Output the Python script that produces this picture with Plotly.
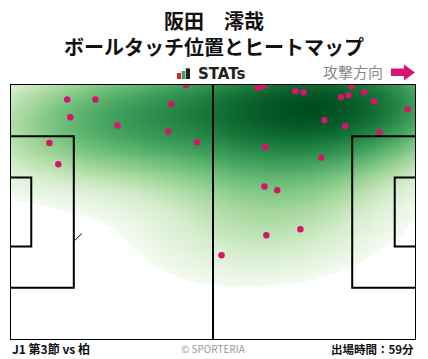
import numpy as np
import plotly.graph_objects as go

# ---- data (pitch coords: 105 x 68, y up) ----
touch_x = [45.5, 14.8, 22.1, 41.7, 15.6, 27.8, 40.9, 48.4, 10.2, 12.5,
           64.0, 65.5, 73.8, 75.9, 88.3, 85.6, 87.5, 91.6, 94.2, 102.8,
           81.3, 86.7, 95.5, 66.0, 80.5, 65.8, 69.1, 66.3, 75.1, 54.7]
touch_y = [67.7, 63.9, 63.9, 62.6, 59.2, 57.0, 55.4, 52.5, 52.3, 46.7,
           66.9, 67.4, 66.1, 65.8, 67.4, 64.5, 65.0, 65.8, 63.4, 61.3,
           58.4, 56.8, 55.2, 51.2, 48.5, 40.8, 39.8, 27.8, 29.4, 22.5]

title_line1 = "阪田　澪哉"
title_line2 = "ボールタッチ位置とヒートマップ"
footer_left = "J1 第3節 vs 柏"
footer_center = "© SPORTERIA"
footer_right = "出場時間：59分"
direction_label = "攻撃方向"

L, W = 105.0, 68.0

# ---- KDE heat map derived from the touch points ----
P = np.vstack([touch_x, touch_y])
n = P.shape[1]
cov = np.cov(P)
fac = 1.5 * n ** (-1.0 / 6.0)
kcov = cov * fac ** 2
kinv = np.linalg.inv(kcov)

def kde(gx, gy):
    X, Y = np.meshgrid(gx, gy)
    pts = np.stack([X.ravel(), Y.ravel()])
    d = pts[:, :, None] - P[:, None, :]
    m = np.einsum('ikn,ij,jkn->kn', d, kinv, d)
    return np.exp(-0.5 * m).sum(axis=1).reshape(X.shape)

ex = np.linspace(-60, 165, 280)
ey = np.linspace(-60, 128, 240)
Z_ext = kde(ex, ey)
vals = np.sort(Z_ext.ravel())
cum = np.cumsum(vals)
cum /= cum[-1]
level = vals[np.searchsorted(cum, 0.10)]

gx = np.linspace(0, L, 211)
gy = np.linspace(0, W, 137)
Z = kde(gx, gy)
Zm = np.where(Z >= level, Z, np.nan)

greens = [[0.0, '#f4faf1'], [0.15, '#d5edcd'], [0.3, '#a5d79c'],
          [0.45, '#6cbe78'], [0.6, '#3f9f5b'], [0.8, '#16773a'], [1.0, '#004d1f']]

fig = go.Figure()
fig.add_trace(go.Heatmap(x=gx, y=gy, z=Zm, colorscale=greens, zsmooth='best',
                         zmin=level, zmax=float(np.nanmax(Z)),
                         showscale=False, hoverinfo='skip'))
fig.add_trace(go.Scatter(x=touch_x, y=touch_y, mode='markers',
                         marker=dict(size=6.5, color='#d6166d'),
                         cliponaxis=True, hoverinfo='skip'))

line = dict(color='black', width=2)
shapes = [
    dict(type='rect', x0=0, y0=0, x1=L, y1=W, line=line),
    dict(type='line', x0=L / 2, y0=0, x1=L / 2, y1=W, line=line),
    dict(type='rect', x0=0, y0=(W - 40.3) / 2, x1=16.5, y1=(W + 40.3) / 2, line=line),
    dict(type='rect', x0=0, y0=(W - 18.3) / 2, x1=5.5, y1=(W + 18.3) / 2, line=line),
    dict(type='rect', x0=L - 16.5, y0=(W - 40.3) / 2, x1=L, y1=(W + 40.3) / 2, line=line),
    dict(type='rect', x0=L - 5.5, y0=(W - 18.3) / 2, x1=L, y1=(W + 18.3) / 2, line=line),
    dict(type='line', x0=16.8, y0=26.5, x1=18.6, y1=28.3, line=dict(color='black', width=1)),
    # attack direction arrow (paper coords)
    dict(type='path', xref='paper', yref='paper',
         path='M 0.9384 1.0313 L 0.9704 1.0313 L 0.9704 1.0137 L 0.9975 1.0449 '
              'L 0.9704 1.0762 L 0.9704 1.0605 L 0.9384 1.0605 Z',
         fillcolor='#d6166d', line=dict(width=0)),
    # STATs logo bars
    dict(type='rect', xref='paper', yref='paper', x0=0.4113, x1=0.4212, y0=1.0195, y1=1.0430,
         fillcolor='#e8202a', line=dict(width=0)),
    dict(type='rect', xref='paper', yref='paper', x0=0.4229, x1=0.4310, y0=1.0195, y1=1.0508,
         fillcolor='#2fa84f', line=dict(width=0)),
    dict(type='rect', xref='paper', yref='paper', x0=0.4328, x1=0.4433, y0=1.0195, y1=1.0613,
         fillcolor='#222222', line=dict(width=0)),
]
for s in shapes:
    s.setdefault('layer', 'above')

font = "Noto Sans CJK JP"
ann = [
    dict(text=f"<b>{title_line1}</b><br><b>{title_line2}</b>", x=0.502, y=1.199,
         font=dict(size=20, color='#111')),
    dict(text="<b>STATs</b>", x=0.457, y=1.039, xanchor='left',
         font=dict(size=15, color='#222', family='DejaVu Sans')),
    dict(text=direction_label, x=0.9236, y=1.0488, xanchor='right', font=dict(size=15, color='#888')),
    dict(text=f"<b>{footer_left}</b>", x=0.0, y=-0.035, xanchor='left', font=dict(size=12, color='#111')),
    dict(text=footer_center, x=0.502, y=-0.033, font=dict(size=10, color='#999')),
    dict(text=f"<b>{footer_right}</b>", x=1.0, y=-0.035, xanchor='right', font=dict(size=11.5, color='#111')),
]
for a in ann:
    a.update(xref='paper', yref='paper', showarrow=False)
    a.setdefault('xanchor', 'center')
    a['yanchor'] = 'middle'

fig.update_layout(
    width=428, height=359,
    margin=dict(l=10, r=12, t=84, b=19),
    paper_bgcolor='white', plot_bgcolor='white',
    font=dict(family=font),
    showlegend=False,
    xaxis=dict(range=[0, L], visible=False, fixedrange=True),
    yaxis=dict(range=[0, W], visible=False, fixedrange=True),
    shapes=shapes, annotations=ann,
)
fig.write_html("out.html", config={'displayModeBar': False},
               post_script="document.body.style.margin='0';")
